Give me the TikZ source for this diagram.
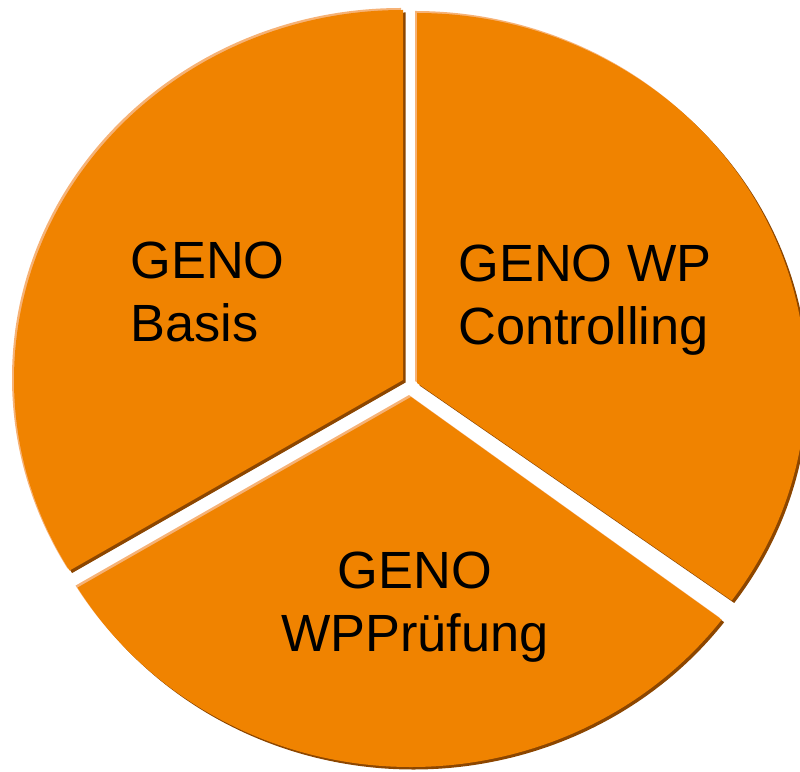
\documentclass[tikz,border=0pt]{standalone}
\usepackage{fontspec}
\setmainfont{Liberation Sans}
\usepackage{xcolor}
\usepackage{tikz}
\definecolor{genoorange}{RGB}{240,131,0}
\definecolor{genodark}{RGB}{140,70,0}
\definecolor{genolight}{RGB}{246,178,118}
\tikzset{
    piechart/.style={x=0.02cm, y=0.02cm, font=\fontsize{29.8}{35.8}\selectfont},
    slice/.style={fill=genoorange},
    % bevel: light rim up-left, dark rim down-right
    rimlight/.style={fill=genolight, shift={(-2,2)}},
    rimdark/.style={fill=genodark, shift={(2.5,-2.5)}},
    label/.style={inner sep=0pt, text=black},
}

\begin{document}
\begin{tikzpicture}[piechart]
    \useasboundingbox (0,0) rectangle (800,771);
    \clip (0,0) rectangle (800,771);

    % slice: GENO Basis
    \fill[rimlight] (403,391) -- +(90:389 and 370) arc[start angle=90, end angle=211, x radius=389, y radius=370] -- cycle;
    \fill[rimdark]  (403,391) -- +(90:389 and 370) arc[start angle=90, end angle=211, x radius=389, y radius=370] -- cycle;
    \fill[slice]    (403,391) -- +(90:389 and 370) arc[start angle=90, end angle=211, x radius=389, y radius=370] -- cycle;

    % slice: GENO WP Controlling
    \fill[rimlight] (417,388) -- +(-36:389 and 370) arc[start angle=-36, end angle=90, x radius=389, y radius=370] -- cycle;
    \fill[rimdark]  (417,388) -- +(-36:389 and 370) arc[start angle=-36, end angle=90, x radius=389, y radius=370] -- cycle;
    \fill[slice]    (417,388) -- +(-36:389 and 370) arc[start angle=-36, end angle=90, x radius=389, y radius=370] -- cycle;

    % slice: GENO WPPruefung
    \fill[rimlight] (411,374) -- +(211:389 and 370) arc[start angle=211, end angle=323, x radius=389, y radius=370] -- cycle;
    \fill[rimdark]  (411,374) -- +(211:389 and 370) arc[start angle=211, end angle=323, x radius=389, y radius=370] -- cycle;
    \fill[slice]    (411,374) -- +(211:389 and 370) arc[start angle=211, end angle=323, x radius=389, y radius=370] -- cycle;

    % labels
    \node[label, anchor=north west, align=left] (basis)       at (130,529) {GENO\\Basis};
    \node[label, anchor=north west, align=left] (controlling) at (458,526) {GENO WP\\Controlling};
    \node[label, anchor=north, align=center]    (pruefung)    at (415,219) {GENO\\WPPrüfung};
\end{tikzpicture}
\end{document}
